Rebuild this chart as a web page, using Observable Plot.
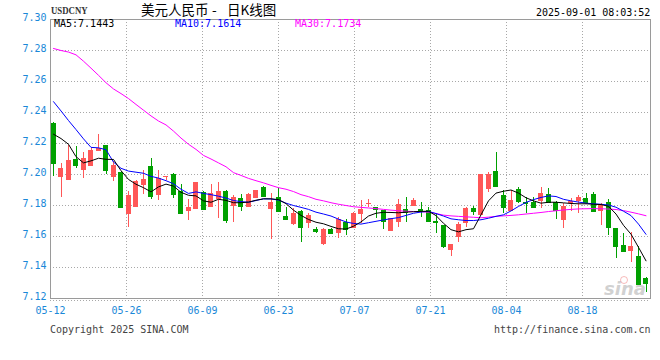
<!DOCTYPE html>
<html><head><meta charset="utf-8">
<script src="https://cdn.jsdelivr.net/npm/d3@7"></script>
<script src="https://cdn.jsdelivr.net/npm/@observablehq/plot@0.6"></script>
<style>
body{margin:0;background:#fff;}
#wrap{position:relative;width:660px;height:360px;overflow:hidden;background:#fff;}
#wrap svg{position:absolute;left:0;top:0;}
.t{position:absolute;white-space:pre;font-family:"DejaVu Sans Mono",monospace;font-size:10px;line-height:10px;}
.eye{position:absolute;left:620px;top:276px;width:6px;height:6px;border-radius:50%;border:1.5px solid rgba(240,120,120,0.5);}
</style></head><body><div id="wrap"></div>
<script>
// ---- data (daily USD/CNY, 05-12 .. 08-29) ----
const open  = [7.2329,7.1983,7.1963,7.2097,7.2026,7.2054,7.2150,7.2187,7.1983,7.2013,
               7.1744,7.1789,7.1929,7.2052,7.1865,7.1981,7.2000,7.1892,7.1763,7.1774,
               7.1886,7.1789,7.1837,7.1890,7.1795,7.1845,7.1789,7.1847,7.1918,7.1772,
               7.1852,7.1729,7.1677,7.1761,7.1686,7.1647,7.1548,7.1647,7.1617,7.1688,
               7.1652,7.1743,7.1809,7.1784,7.1765,7.1634,7.1692,7.1774,7.1795,7.1776,
               7.1768,7.1696,7.1671,7.1512,7.1596,7.1685,7.1781,7.1735,7.1905,7.2020,
               7.1865,7.1763,7.1903,7.1821,7.1821,7.1826,7.1871,7.1821,7.1703,7.1811,
               7.1826,7.1847,7.1871,7.1763,7.1821,7.1650,7.1542,7.1503,7.1471,7.1331];
const high  = [7.2335,7.2071,7.2187,7.2183,7.2140,7.2170,7.2258,7.2190,7.2086,7.2018,
               7.1892,7.1961,7.2026,7.2105,7.2026,7.1989,7.2008,7.1935,7.1839,7.1948,
               7.1892,7.1936,7.1950,7.1895,7.1865,7.1871,7.1875,7.1900,7.1925,7.1875,
               7.1908,7.1789,7.1779,7.1765,7.1750,7.1660,7.1650,7.1650,7.1721,7.1708,
               7.1752,7.1832,7.1839,7.1790,7.1770,7.1716,7.1840,7.1850,7.1846,7.1821,
               7.1785,7.1746,7.1674,7.1550,7.1690,7.1785,7.1794,7.2002,7.2015,7.2144,
               7.1897,7.1897,7.1918,7.1850,7.1850,7.1918,7.1908,7.1825,7.1813,7.1843,
               7.1865,7.1875,7.1885,7.1811,7.1837,7.1652,7.1621,7.1628,7.1535,7.1337];
const low   = [7.1989,7.1854,7.1960,7.2041,7.1976,7.2050,7.2148,7.2002,7.1955,7.1781,
               7.1660,7.1787,7.1871,7.1839,7.1832,7.1963,7.1847,7.1750,7.1703,7.1774,
               7.1770,7.1787,7.1718,7.1686,7.1692,7.1763,7.1785,7.1845,7.1856,7.1579,
               7.1761,7.1705,7.1671,7.1563,7.1650,7.1617,7.1545,7.1615,7.1589,7.1604,
               7.1650,7.1682,7.1789,7.1718,7.1648,7.1632,7.1660,7.1692,7.1793,7.1721,
               7.1697,7.1617,7.1524,7.1474,7.1563,7.1655,7.1735,7.1733,7.1886,7.1920,
               7.1750,7.1761,7.1811,7.1746,7.1787,7.1779,7.1815,7.1710,7.1654,7.1763,
               7.1750,7.1815,7.1760,7.1671,7.1606,7.1456,7.1503,7.1434,7.1282,7.1241];
const close = [7.2073,7.2039,7.2090,7.2060,7.2103,7.2155,7.2170,7.2026,7.2060,7.1787,
               7.1865,7.1955,7.1968,7.1860,7.1972,7.1989,7.1871,7.1750,7.1787,7.1948,
               7.1774,7.1876,7.1890,7.1703,7.1850,7.1794,7.1871,7.1897,7.1858,7.1819,
               7.1763,7.1708,7.1746,7.1660,7.1737,7.1630,7.1647,7.1617,7.1710,7.1643,
               7.1748,7.1774,7.1813,7.1772,7.1694,7.1714,7.1806,7.1757,7.1832,7.1768,
               7.1699,7.1692,7.1534,7.1548,7.1677,7.1782,7.1763,7.2002,7.2002,7.1925,
               7.1789,7.1832,7.1826,7.1811,7.1789,7.1879,7.1821,7.1768,7.1794,7.1826,
               7.1854,7.1819,7.1763,7.1800,7.1660,7.1535,7.1505,7.1535,7.1290,7.1300];
const ma5   = [7.2260,7.2232,7.2195,7.2115,7.2075,7.2088,7.2105,7.2098,7.2097,7.2025,
               7.1968,7.1937,7.1915,7.1888,7.1920,7.1938,7.1925,7.1885,7.1866,7.1862,
               7.1830,7.1821,7.1840,7.1833,7.1818,7.1818,7.1822,7.1834,7.1843,7.1843,
               7.1838,7.1812,7.1770,7.1736,7.1710,7.1692,7.1682,7.1665,7.1650,7.1648,
               7.1666,7.1694,7.1732,7.1750,7.1756,7.1755,7.1753,7.1757,7.1760,7.1762,
               7.1763,7.1735,7.1685,7.1644,7.1630,7.1644,7.1650,7.1740,7.1830,7.1880,
               7.1892,7.1900,7.1880,7.1850,7.1830,7.1815,7.1821,7.1821,7.1817,7.1813,
               7.1811,7.1811,7.1808,7.1806,7.1795,7.1745,7.1672,7.1615,7.1530,7.1443];
const ma10  = [7.2470,7.2410,7.2348,7.2290,7.2230,7.2175,7.2172,7.2160,7.2080,7.2040,
               7.2022,7.2015,7.2008,7.1988,7.1977,7.1960,7.1940,7.1905,7.1878,7.1888,
               7.1878,7.1870,7.1860,7.1848,7.1832,7.1825,7.1821,7.1832,7.1843,7.1842,
               7.1835,7.1815,7.1800,7.1788,7.1775,7.1757,7.1745,7.1732,7.1712,7.1694,
               7.1684,7.1680,7.1689,7.1698,7.1707,7.1715,7.1722,7.1736,7.1750,7.1758,
               7.1762,7.1748,7.1732,7.1714,7.1708,7.1703,7.1703,7.1708,7.1718,7.1730,
               7.1740,7.1765,7.1794,7.1820,7.1838,7.1852,7.1862,7.1858,7.1840,7.1830,
               7.1822,7.1815,7.1811,7.1808,7.1803,7.1789,7.1763,7.1735,7.1680,7.1614];
const ma30  = [7.2813,7.2800,7.2790,7.2772,7.2731,7.2686,7.2640,7.2592,7.2552,7.2522,
               7.2490,7.2452,7.2415,7.2378,7.2345,7.2320,7.2280,7.2235,7.2195,7.2162,
               7.2123,7.2100,7.2075,7.2050,7.2012,7.1994,7.1975,7.1960,7.1946,7.1930,
               7.1915,7.1905,7.1890,7.1870,7.1857,7.1840,7.1830,7.1818,7.1808,7.1800,
               7.1792,7.1788,7.1784,7.1780,7.1775,7.1770,7.1766,7.1763,7.1761,7.1760,
               7.1757,7.1748,7.1738,7.1733,7.1730,7.1727,7.1724,7.1721,7.1725,7.1730,
               7.1733,7.1736,7.1740,7.1745,7.1750,7.1755,7.1761,7.1766,7.1771,7.1775,
               7.1778,7.1779,7.1780,7.1779,7.1777,7.1774,7.1767,7.1757,7.1746,7.1734];
const xTickLabels = ["05-12","05-26","06-09","06-23","07-07","07-21","08-04","08-18"];
const yTickValues = [7.12,7.14,7.16,7.18,7.20,7.22,7.24,7.26,7.28,7.30];

// ---- build ----
const RED = "#ff5757", GREEN = "#00a000", BLUE_TXT = "#1a88d8", GRID = "#a8a8a8";
const candles = close.map((c, i) => ({i, o: open[i], h: high[i], l: low[i], c, col: c >= open[i] ? RED : GREEN}));
const series = (arr) => arr.map((v, i) => ({i, v}));
// date gridlines sit every 76px; expressed in candle-index units (7.5px per candle)
const xTickPos = xTickLabels.map((_, k) => -0.4 + k * 76 / 7.5);
const half = 1 / 3;
const mono = "DejaVu Sans Mono";

const chart = Plot.plot({
  width: 660, height: 360,
  marginTop: 19, marginBottom: 62, marginLeft: 50, marginRight: 10,
  x: {domain: [-0.4, 79.6], axis: null},
  y: {domain: [7.12, 7.30], axis: null},
  style: {background: "white", overflow: "visible"},
  marks: [
    Plot.ruleY(yTickValues.slice(1, -1), {stroke: GRID, strokeDasharray: "1,2"}),
    Plot.ruleX(xTickPos.slice(1), {stroke: GRID, strokeDasharray: "1,2"}),
    Plot.ruleY([7.12], {stroke: GRID, strokeDasharray: "1,2", dy: 2}),
    Plot.frame({stroke: "#9a9a9a"}),
    Plot.text(yTickValues, {x: -0.4, y: d => d, text: d => d.toFixed(2), textAnchor: "end", dx: -4, dy: -2,
      fill: BLUE_TXT, fontFamily: mono, fontSize: 10}),
    Plot.text(xTickPos, {x: d => d, y: 7.12, text: (d, k) => xTickLabels[k], dy: 12,
      fill: BLUE_TXT, fontFamily: mono, fontSize: 10}),
    Plot.ruleX(candles, {x: "i", y1: "l", y2: "h", stroke: "col", shapeRendering: "crispEdges"}),
    Plot.rect(candles, {x1: d => d.i - half, x2: d => d.i + half, y1: "o", y2: "c", fill: "col", shapeRendering: "crispEdges"}),
    Plot.ruleY(candles, {x1: d => d.i - half, x2: d => d.i + half, y: "c", stroke: "col", shapeRendering: "crispEdges"}),
    Plot.line(series(ma30), {x: "i", y: "v", stroke: "#ff00ff", strokeWidth: 1}),
    Plot.line(series(ma10), {x: "i", y: "v", stroke: "#0000ff", strokeWidth: 1}),
    Plot.line(series(ma5), {x: "i", y: "v", stroke: "#000000", strokeWidth: 1})
  ]
});
const wrap = document.getElementById("wrap");
wrap.appendChild(chart);

function label(text, left, top, css) {
  const d = document.createElement("div");
  d.className = "t";
  d.textContent = text;
  d.style.left = left + "px";
  d.style.top = top + "px";
  Object.assign(d.style, css || {});
  wrap.appendChild(d);
}
const cjk = {fontFamily: "'Noto Sans CJK SC',sans-serif", fontSize: "13.5px", lineHeight: "14px", color: "#000"};
label("USDCNY", 51, 5, {fontFamily: "'Liberation Serif',serif", fontSize: "11px", lineHeight: "11px", color: "#333",
  transform: "scaleX(0.8)", transformOrigin: "left top", fontWeight: "bold"});
label("美元人民币", 141, 2, cjk);
label("-", 212, 2, cjk);
label("日K线图", 227, 2, cjk);
label("2025-09-01 08:03:52", 536, 7.5, {color: "#000"});
label("MA5:7.1443", 54, 18.8, {color: "#000"});
label("MA10:7.1614", 175, 18.8, {color: "#0000ff"});
label("MA30:7.1734", 295, 18.8, {color: "#ff00ff"});
label("Copyright 2025 SINA.COM", 50, 324.5, {color: "#444"});
label("http://finance.sina.com.cn", 494, 324.5, {color: "#444"});
label("sina", 604, 281, {fontFamily: "'DejaVu Sans',sans-serif", fontSize: "18px", lineHeight: "16px",
  fontWeight: "bold", fontStyle: "italic", color: "rgba(170,170,170,0.55)"});
const eye = document.createElement("div");
eye.className = "eye";
wrap.appendChild(eye);
</script></body></html>
